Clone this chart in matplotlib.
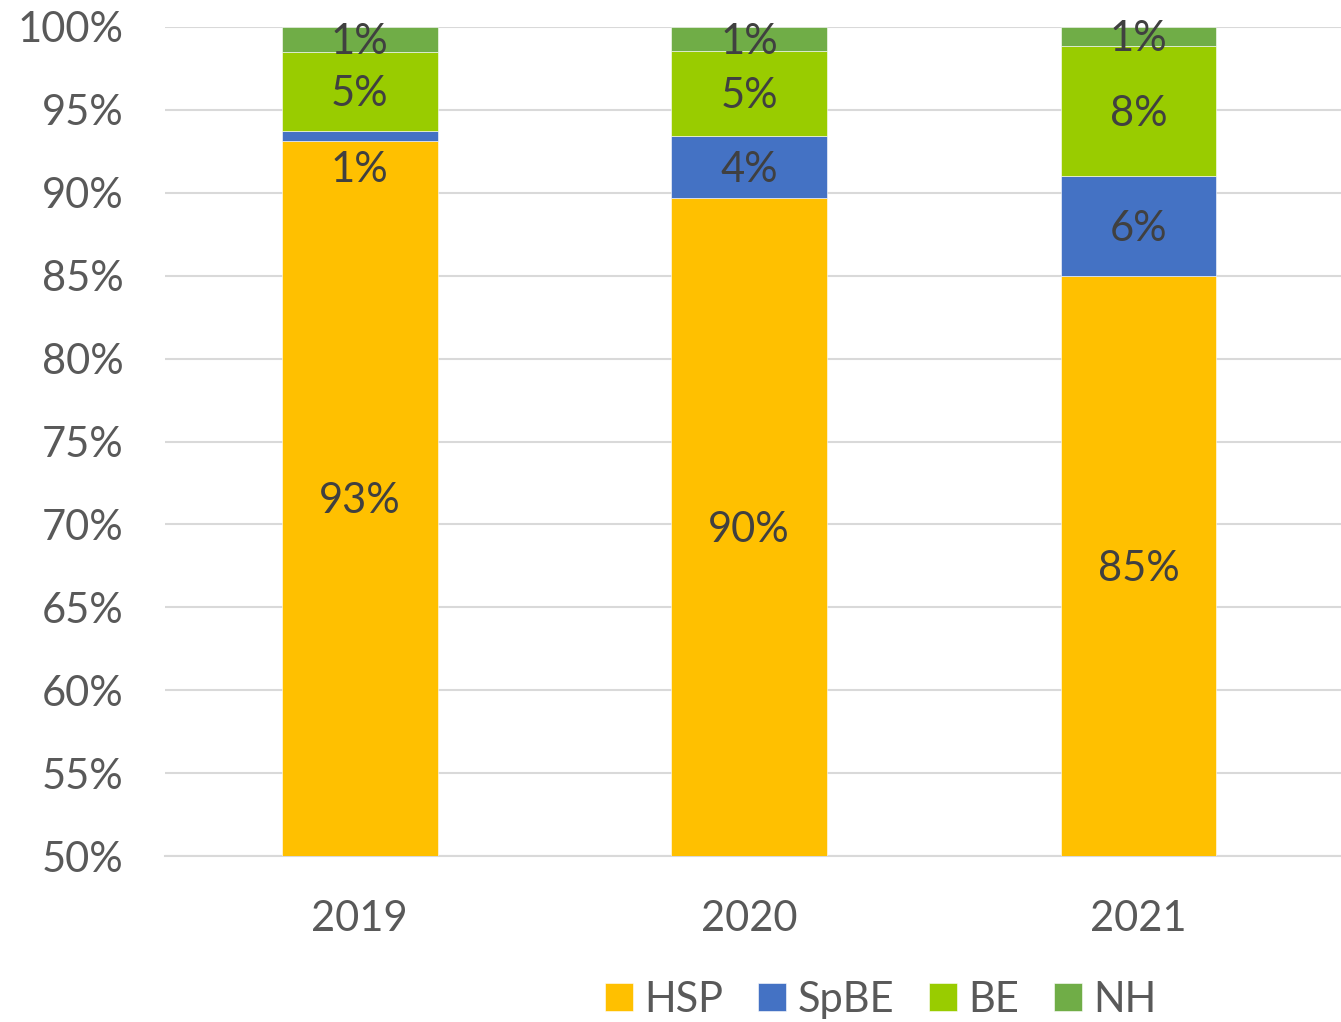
import numpy as np
import matplotlib.pyplot as plt
from matplotlib.ticker import PercentFormatter

plt.rcParams['font.family'] = ['Lato', 'DejaVu Sans']

years = ['2019', '2020', '2021']
series = ['HSP', 'SpBE', 'BE', 'NH']
hsp = [93.1, 89.7, 85.0]
spbe = [0.6, 3.7, 6.0]
be = [4.8, 5.15, 7.85]
nh = [1.5, 1.45, 1.15]
labels = [
    ['93%', '90%', '85%'],
    ['1%', '4%', '6%'],
    ['5%', '5%', '8%'],
    ['1%', '1%', '1%'],
]
colors = ['#FFC000', '#4472C4', '#99CC00', '#70AD47']

values = [hsp, spbe, be, nh]
YMIN, YMAX = 50, 100

fig = plt.figure(figsize=(13.41, 10.22), dpi=100)
ax = fig.add_axes([0.123, 0.1624, 0.877, 0.8112])

x = np.arange(len(years))
bottom = np.zeros(len(years))
handles = []
for i, (name, vals) in enumerate(zip(series, values)):
    vals = np.array(vals)
    bars = ax.bar(x, vals, width=0.4, bottom=bottom, color=colors[i],
                  label=name, zorder=3, edgecolor='white', linewidth=0.4)
    handles.append(bars)
    for j in range(len(years)):
        # label at centre of the visible part of the segment
        lo = max(bottom[j], YMIN)
        hi = bottom[j] + vals[j]
        # small 2019 SpBE label sits below its thin segment
        dy = -24 if (i == 1 and j == 0) else -2
        ax.annotate(labels[i][j], xy=(x[j], (lo + hi) / 2),
                    xytext=(0, dy), textcoords='offset points',
                    ha='center', va='center', fontsize=30, color='#404040',
                    zorder=5)
    bottom += vals

ax.set_ylim(YMIN, YMAX)
ax.set_xlim(-0.5, 2.52)
ax.set_yticks(np.arange(50, 101, 5))
ax.yaxis.set_major_formatter(PercentFormatter(decimals=0))
ax.set_xticks(x)
ax.set_xticklabels(years)
ax.tick_params(axis='y', length=0, pad=30, labelsize=30, labelcolor='#595959')
ax.tick_params(axis='x', length=0, pad=32, labelsize=30, labelcolor='#595959')
ax.grid(axis='y', color='#D9D9D9', linewidth=1.5, zorder=0)
ax.set_axisbelow(True)
for s in ['left', 'right', 'top']:
    ax.spines[s].set_visible(False)
ax.spines['bottom'].set_color('#D9D9D9')
ax.spines['bottom'].set_linewidth(1.5)

fig.legend(handles=handles, labels=series, loc='center', ncol=4,
           bbox_to_anchor=(0.657, 0.022), frameon=False, fontsize=30,
           labelcolor='#595959', handlelength=0.67, handleheight=0.67,
           handletextpad=0.27, columnspacing=0.84)

fig.savefig('out.png', dpi=100)
